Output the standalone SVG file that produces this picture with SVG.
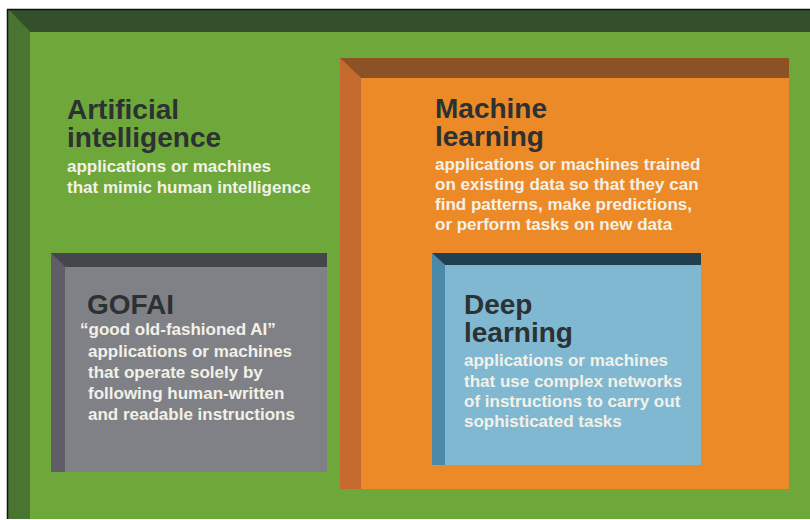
<svg xmlns="http://www.w3.org/2000/svg" width="810" height="520" viewBox="0 0 810 520">
  <style>
    .h { font-family: "Liberation Sans", Arial, sans-serif; font-weight: bold; font-size: 28px; fill: #2c3131; }
    .s { font-family: "Liberation Sans", Arial, sans-serif; font-weight: bold; font-size: 17px; fill: #f2f1e8; }
  </style>
  <rect x="0" y="0" width="810" height="520" fill="#ffffff"/>
  <g id="ai">
    <rect x="8" y="9" width="802" height="510" fill="#6ea83a"/>
    <polygon points="8,9 30,32 30,519 8,519" fill="#4a7530"/>
    <polygon points="8,9 810,9 810,32 30,32" fill="#34502a"/>
    <line x1="7.5" y1="9" x2="7.5" y2="519" stroke="#111" stroke-width="1.5"/>
    <line x1="7" y1="9.5" x2="810" y2="9.5" stroke="#111" stroke-width="1.5"/>
    <text class="h" x="67" y="119">Artificial</text>
    <text class="h" x="67" y="147">intelligence</text>
    <text class="s" x="67" y="172">applications or machines</text>
    <text class="s" x="67" y="193">that mimic human intelligence</text>
  </g>
  <g id="ml">
    <rect x="340" y="58" width="449" height="431" fill="#ec8a28"/>
    <polygon points="340,58 361,78 361,489 340,489" fill="#c46a2e"/>
    <polygon points="340,58 789,58 789,78 361,78" fill="#8c5226"/>
    <text class="h" x="435" y="118">Machine</text>
    <text class="h" x="435" y="146">learning</text>
    <text class="s" x="435" y="170">applications or machines trained</text>
    <text class="s" x="435" y="190">on existing data so that they can</text>
    <text class="s" x="435" y="210">find patterns, make predictions,</text>
    <text class="s" x="435" y="230">or perform tasks on new data</text>
  </g>
  <g id="gofai">
    <rect x="51" y="253" width="276" height="219" fill="#808186"/>
    <polygon points="51,253 65,267 65,472 51,472" fill="#5e5d68"/>
    <polygon points="51,253 327,253 327,267 65,267" fill="#45464b"/>
    <text class="h" x="87" y="314">GOFAI</text>
    <text class="s" x="80" y="335">“good old-fashioned AI”</text>
    <text class="s" x="88" y="357">applications or machines</text>
    <text class="s" x="88" y="378">that operate solely by</text>
    <text class="s" x="88" y="399">following human-written</text>
    <text class="s" x="88" y="420">and readable instructions</text>
  </g>
  <g id="dl">
    <rect x="432" y="253" width="269" height="212" fill="#80b8d2"/>
    <polygon points="432,253 445,265 445,465 432,465" fill="#4a8aa8"/>
    <polygon points="432,253 701,253 701,265 445,265" fill="#21404f"/>
    <text class="h" x="464" y="314">Deep</text>
    <text class="h" x="464" y="342">learning</text>
    <text class="s" x="464" y="366">applications or machines</text>
    <text class="s" x="464" y="387">that use complex networks</text>
    <text class="s" x="464" y="407">of instructions to carry out</text>
    <text class="s" x="464" y="427">sophisticated tasks</text>
  </g>
  <g id="connectors"></g>
</svg>
